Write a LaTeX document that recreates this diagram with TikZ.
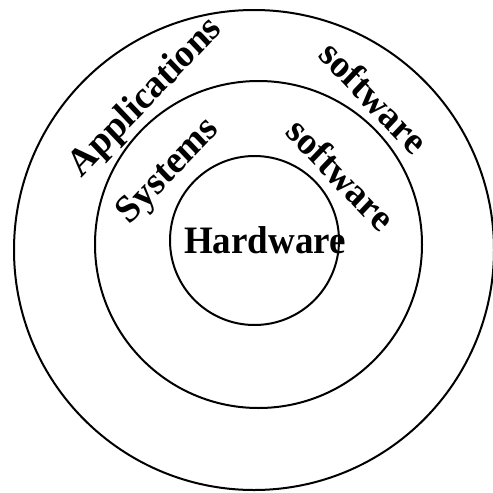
\documentclass[tikz,border=0pt]{standalone}
\usepackage{fontspec}
\setmainfont{Liberation Serif}
\begin{document}
\begin{tikzpicture}[x=1pt,y=-1pt,
  ring/.style={draw=black,line width=2pt,circle,inner sep=0pt},
  lbl/.style={font=\bfseries\fontsize{37}{42}\selectfont,inner sep=0pt,yscale=1.05}]
\useasboundingbox (0,0) rectangle (493,493);
\node[ring,minimum size=480pt] (outer) at (254,250) {};
\node[ring,minimum size=327pt] (middle) at (258.5,244.5) {};
\node[ring,minimum size=169pt] (inner) at (254.5,240.5) {};
\node[lbl] (hw) at (265,240) {Hardware};
\node[lbl,rotate=45] (app) at (146,98) {Applications};
\node[lbl,rotate=45] (sys) at (169,172) {Systems};
\node[lbl,rotate=-45] (sw1) at (374,97) {software};
\node[lbl,rotate=-45] (sw2) at (341,174) {software};
\end{tikzpicture}
\end{document}
